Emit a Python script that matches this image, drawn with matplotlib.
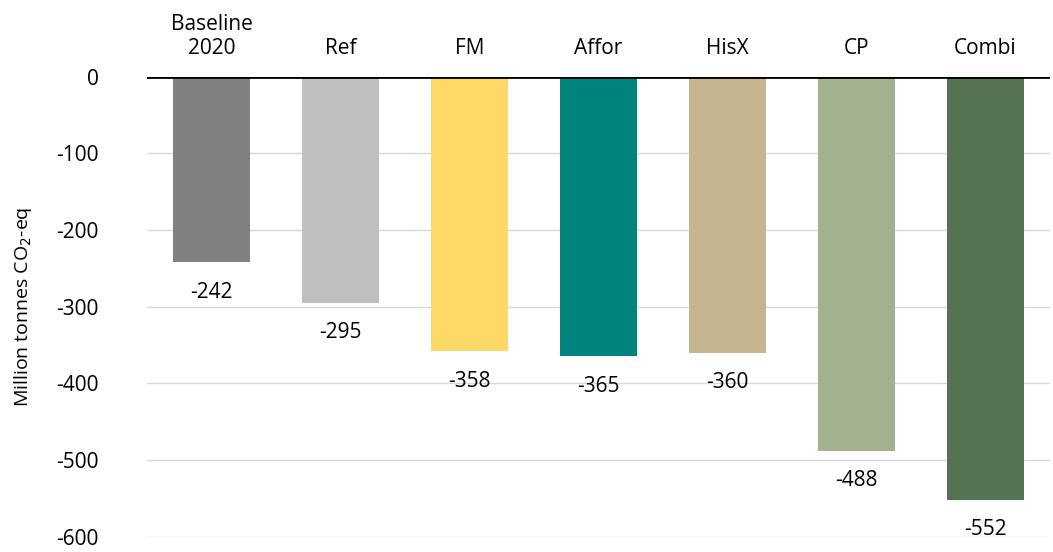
import matplotlib.pyplot as plt

# net LULUCF removals per scenario
scenarios = ['Baseline\n2020', 'Ref', 'FM', 'Affor', 'HisX', 'CP', 'Combi']
values = [-242, -295, -358, -365, -360, -488, -552]
colors = ['#808080', '#BFBFBF', '#FFD966', '#00827D', '#C4B490', '#A3B18F', '#547353']

plt.rcParams['font.family'] = ['Open Sans', 'DejaVu Sans']
plt.rcParams['axes.unicode_minus'] = False

fig = plt.figure(figsize=(10.53, 5.52), dpi=100)
ax = fig.add_axes([0.1396, 0.028, 0.8574, 0.833])

x = range(len(scenarios))
ax.bar(x, values, width=0.6, color=colors, zorder=2)

# value labels under each bar
for i, v in enumerate(values):
    ax.annotate(f'{v}', (i, v), xytext=(0, -14), textcoords='offset points',
                ha='center', va='top', fontsize=15, color='black')

# scenario names above the zero line
for i, name in enumerate(scenarios):
    ax.annotate(name, (i, 0), xytext=(0, 13), textcoords='offset points',
                ha='center', va='bottom', fontsize=15, linespacing=1.15)

ax.set_xlim(-0.5, len(scenarios) - 0.5)
ax.set_ylim(-600, 0)
ax.set_yticks(range(-600, 1, 100))
ax.tick_params(axis='y', length=0, pad=35, labelsize=15)
ax.tick_params(axis='x', length=0, labelbottom=False)
ax.grid(axis='y', color='#D9D9D9', linewidth=1, zorder=0)
ax.axhline(0, color='black', linewidth=2, zorder=3)
for s in ax.spines.values():
    s.set_visible(False)

ax.set_ylabel('Million tonnes CO$_2$-eq', fontsize=14, labelpad=16)

fig.savefig('out.png', dpi=100)
